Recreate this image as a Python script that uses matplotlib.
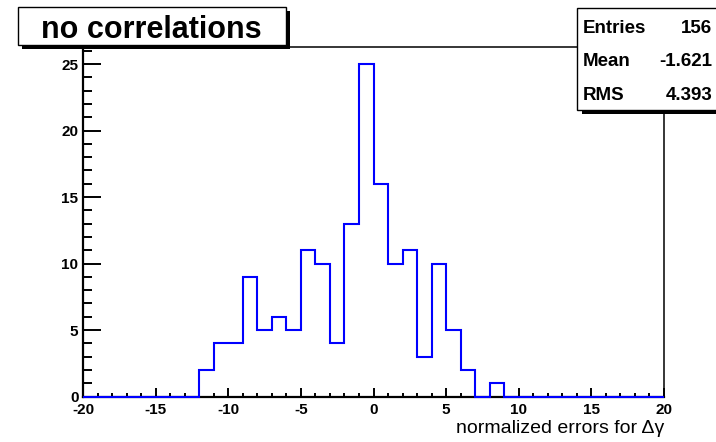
import matplotlib
matplotlib.use('Agg')
import matplotlib.pyplot as plt
from matplotlib.patches import Rectangle
from matplotlib.ticker import MultipleLocator
import numpy as np

plt.rcParams['font.family'] = ['Liberation Sans', 'DejaVu Sans']
plt.rcParams['axes.unicode_minus'] = False

# histogram: 40 bins of width 1 from -20 to 20
bin_edges = np.arange(-20, 21, 1)
counts = [0, 0, 0, 0, 0, 0, 0, 0,
          2, 4, 4, 9, 5, 6, 5, 11, 10, 4, 13, 25,
          16, 10, 11, 3, 10, 5, 2, 0, 1,
          0, 0, 0, 0, 0, 0, 0, 0, 0, 0, 0]

title = 'no correlations'
xlabel = 'normalized errors for Δγ'
stat_names = ['Entries', 'Mean', 'RMS']
stat_values = ['156', '-1.621', '4.393']

W, H = 716, 442
fig = plt.figure(figsize=(W / 100, H / 100), dpi=100)


def fx(px):
    return px / W


def fy(py):
    return 1 - py / H


ax = fig.add_axes([fx(83), fy(396.5), fx(664) - fx(83), fy(47.4) - fy(396.5)])
ax.stairs(counts, bin_edges, color='blue', lw=1.5, zorder=3, clip_on=False)
ax.set_xlim(-20, 20)
ax.set_ylim(0, max(counts) * 1.05)

ax.xaxis.set_major_locator(MultipleLocator(5))
ax.xaxis.set_minor_locator(MultipleLocator(1))
ax.yaxis.set_major_locator(MultipleLocator(5))
ax.yaxis.set_minor_locator(MultipleLocator(1))
ax.tick_params(axis='both', which='both', direction='in', width=1.4,
               top=False, right=False)
ax.tick_params(axis='y', which='major', length=13, pad=3.3, labelsize=11)
ax.tick_params(axis='y', which='minor', length=6.5)
ax.tick_params(axis='x', which='major', length=6.5, pad=5, labelsize=11)
ax.tick_params(axis='x', which='minor', length=3.2)
for lab in ax.get_xticklabels() + ax.get_yticklabels():
    lab.set_fontweight('bold')

for side in ['left', 'bottom']:
    ax.spines[side].set_linewidth(1.6)
for side in ['top', 'right']:
    ax.spines[side].set_linewidth(1.1)

ax.set_xlabel(xlabel, fontsize=14, loc='right', labelpad=2)

# title box with shadow
fig.patches.append(Rectangle((fx(22), fy(49)), fx(290) - fx(22), fy(11) - fy(49),
                             transform=fig.transFigure, facecolor='black',
                             edgecolor='none', zorder=5))
fig.patches.append(Rectangle((fx(17.5), fy(45)), fx(285.5) - fx(17.5), fy(7) - fy(45),
                             transform=fig.transFigure, facecolor='white',
                             edgecolor='black', lw=1, zorder=6))
fig.text(fx(151), fy(38.5), title, fontsize=22, fontweight='bold',
         ha='center', va='baseline', zorder=7)

# stats box with shadow
fig.patches.append(Rectangle((fx(582), fy(113.5)), fx(730) - fx(582), fy(12) - fy(113.5),
                             transform=fig.transFigure, facecolor='black',
                             edgecolor='none', zorder=5))
fig.patches.append(Rectangle((fx(577), fy(109.5)), fx(725) - fx(577), fy(7.5) - fy(109.5),
                             transform=fig.transFigure, facecolor='white',
                             edgecolor='black', lw=1, zorder=6))
baselines = [33, 66.5, 100]
for name, val, yb in zip(stat_names, stat_values, baselines):
    fig.text(fx(583), fy(yb), name, fontsize=13.5, fontweight='bold',
             ha='left', va='baseline', zorder=7)
    fig.text(fx(712), fy(yb), val, fontsize=13.5, fontweight='bold',
             ha='right', va='baseline', zorder=7)

fig.savefig('out.png', dpi=100)
